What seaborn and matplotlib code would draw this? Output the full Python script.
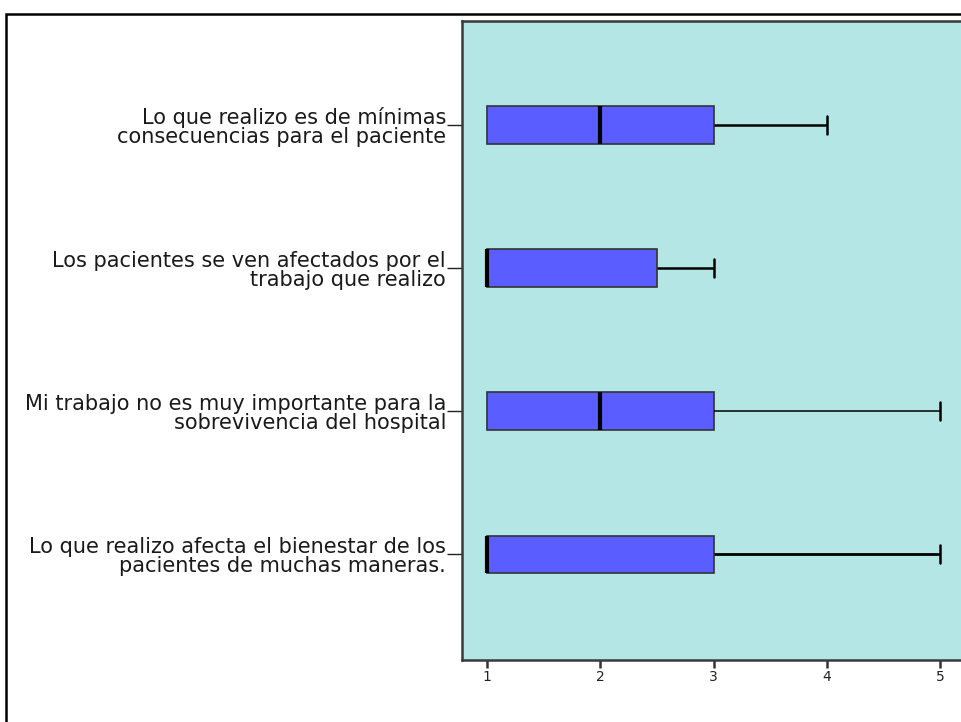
import matplotlib
matplotlib.use("Agg")
import matplotlib.pyplot as plt
from matplotlib.patches import Rectangle
import matplotlib.transforms as mtransforms
import seaborn as sns
import pandas as pd

# Items (top to bottom) and their five-number summaries
items = [
    "Lo que realizo es de mínimas\nconsecuencias para el paciente",
    "Los pacientes se ven afectados por el\ntrabajo que realizo",
    "Mi trabajo no es muy importante para la\nsobrevivencia del hospital",
    "Lo que realizo afecta el bienestar de los\npacientes de muchas maneras.",
]
minimum = [1, 1, 1, 1]
q1 = [1, 1, 1, 1]
median = [2, 1, 2, 1]
q3 = [3, 2.5, 3, 3]
maximum = [4, 3, 5, 5]
x_ticks = [1, 2, 3, 4, 5]

# Long-form table: each item contributes its summary values, which
# reproduce exactly those quartiles and whisker ends.
rows = []
for i, item in enumerate(items):
    for v in (minimum[i], q1[i], median[i], q3[i], maximum[i]):
        rows.append({"item": item, "score": v})
df = pd.DataFrame(rows)

sns.set_theme(style="white")
plt.rcParams["font.family"] = ["DejaVu Sans"]

W, H = 962, 722
fig = plt.figure(figsize=(W / 100, H / 100), dpi=100)
fig.patch.set_facecolor("white")

# Plot area (right side runs past the canvas edge)
left_px, top_px, bottom_px = 462, 21, 660
unit = 113.3
x0 = 0.78
x1 = 5.5
right_px = 487 + (x1 - 1) * unit
ax = fig.add_axes([left_px / W, 1 - bottom_px / H,
                   (right_px - left_px) / W, (bottom_px - top_px) / H])
ax.set_facecolor("#b4e6e6")

sns.boxplot(
    data=df, x="score", y="item", order=items, orient="h",
    color="#5a5dff", saturation=1, width=0.26, whis=1.5, ax=ax,
    linecolor="#222222", linewidth=1.2,
    medianprops=dict(color="black", linewidth=3),
    whiskerprops=dict(color="black", linewidth=1.8),
    capprops=dict(color="black", linewidth=1.8),
    boxprops=dict(edgecolor="#333333", linewidth=1.2),
    showfliers=False,
)

# Hide zero-length lower whiskers/caps (minimum equals the lower quartile)
bp = ax.containers[0]
whisker_widths = [1.8, 1.8, 1.1, 2.0]
for i in range(len(items)):
    if minimum[i] == q1[i]:
        bp.caps[2 * i].set_visible(False)
        bp.whiskers[2 * i].set_visible(False)
    bp.whiskers[2 * i + 1].set_linewidth(whisker_widths[i])

ax.set_xlim(x0, x1)
ax.set_ylim(3.74, -0.727)
ax.set_xticks(x_ticks)
ax.set_xticklabels([str(t) for t in x_ticks])
ax.set_xlabel("")
ax.set_ylabel("")

for side in ("left", "bottom", "top"):
    ax.spines[side].set_visible(True)
    ax.spines[side].set_color("#3a3a3a")
    ax.spines[side].set_linewidth(1.8)
ax.spines["right"].set_visible(False)

ax.tick_params(axis="x", direction="out", length=6, width=1.8,
               color="#333333", labelsize=10, pad=1.5, bottom=True,
               labelcolor="#222222")
ax.tick_params(axis="y", direction="out", length=11, width=1.0,
               color="#222222", labelsize=15, pad=0.5, left=True,
               labelcolor="#1a1a1a")
shift = mtransforms.ScaledTranslation(0, -1 / 100, fig.dpi_scale_trans)
for lbl in ax.get_yticklabels():
    lbl.set_multialignment("right")
    lbl.set_linespacing(0.93)
    lbl.set_transform(lbl.get_transform() + shift)

# Outer frame around the whole chart
fig.add_artist(Rectangle((6 / W, -0.05), 1.1, 1 - 14 / H + 0.05,
                         transform=fig.transFigure, fill=False,
                         edgecolor="black", linewidth=1.8))

fig.savefig("out.png", dpi=100)
